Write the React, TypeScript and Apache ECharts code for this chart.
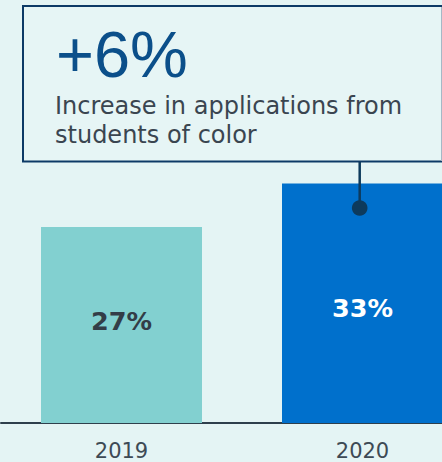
import React, { useEffect, useRef } from "react";
import * as echarts from "echarts";

const categories = ["2019", "2020"];
const values = [27, 33];
const barColors = ["#82D0D0", "#0070CC"];
const labelColors = ["#333D47", "#FFFFFF"];
const labelTexts = ["27%", "33%"];
const labelOffsets = [-4, 5];
const headline = "+6%";
const captionLines = ["Increase in applications from", "students of color"];

export default function App() {
  const ref = useRef<HTMLDivElement>(null);
  useEffect(() => {
    document.body.style.margin = "0";
    const chart = echarts.init(ref.current!, null, { renderer: "svg" });
    chart.setOption({
      animation: false,
      backgroundColor: "#E4F4F4",
      grid: { left: 1, right: 1, top: 60, bottom: 39 },
      xAxis: {
        type: "category",
        data: categories,
        axisLine: { show: true, lineStyle: { color: "#2E3F4C", width: 2 } },
        axisTick: { show: false },
        axisLabel: {
          color: "#3D4A55",
          fontFamily: "DejaVu Sans",
          fontSize: 21,
          margin: 17,
        },
      },
      yAxis: {
        type: "value",
        min: 0,
        max: 50,
        show: false,
        splitLine: { show: false },
      },
      series: [
        {
          type: "bar",
          barWidth: 161,
          data: values.map((v, i) => ({
            value: v,
            itemStyle: { color: barColors[i] },
            label: {
              show: true,
              position: "inside",
              formatter: labelTexts[i],
              color: labelColors[i],
              fontFamily: "DejaVu Sans",
              fontWeight: "bold",
              fontSize: 25.5,
              offset: [0, labelOffsets[i]],
            },
          })),
        },
      ],
      graphic: [
        {
          type: "rect",
          shape: { x: 23, y: 6, width: 440, height: 155.5 },
          style: { fill: "#E6F5F5", stroke: "#0D3A66", lineWidth: 2 },
          z: 10,
        },
        {
          type: "line",
          shape: { x1: 441.5, y1: 7, x2: 441.5, y2: 161 },
          style: { stroke: "#A5B8C6", lineWidth: 1 },
          z: 11,
        },
        {
          type: "text",
          x: 56,
          y: 54.5,
          style: {
            text: headline,
            fill: "#0B4F8A",
            font: "65px 'Liberation Sans'",
            verticalAlign: "middle",
            align: "left",
          },
          z: 11,
        },
        {
          type: "text",
          x: 55,
          y: 106,
          style: {
            text: captionLines[0],
            fill: "#3A4550",
            font: "24px 'DejaVu Sans'",
            verticalAlign: "middle",
            align: "left",
          },
          z: 11,
        },
        {
          type: "text",
          x: 55,
          y: 135,
          style: {
            text: captionLines[1],
            fill: "#3A4550",
            font: "24px 'DejaVu Sans'",
            verticalAlign: "middle",
            align: "left",
          },
          z: 11,
        },
        {
          type: "line",
          shape: { x1: 359.7, y1: 162, x2: 359.7, y2: 208 },
          style: { stroke: "#0D3A5C", lineWidth: 2.5 },
          z: 11,
        },
        {
          type: "circle",
          shape: { cx: 359.7, cy: 208, r: 7.8 },
          style: { fill: "#0D3A5C" },
          z: 11,
        },
      ],
    });
    return () => chart.dispose();
  }, []);
  return (
    <div style={{ width: 442, height: 462, overflow: "hidden", position: "relative" }}>
      <div ref={ref} style={{ width: 484, height: 462 }} />
    </div>
  );
}
